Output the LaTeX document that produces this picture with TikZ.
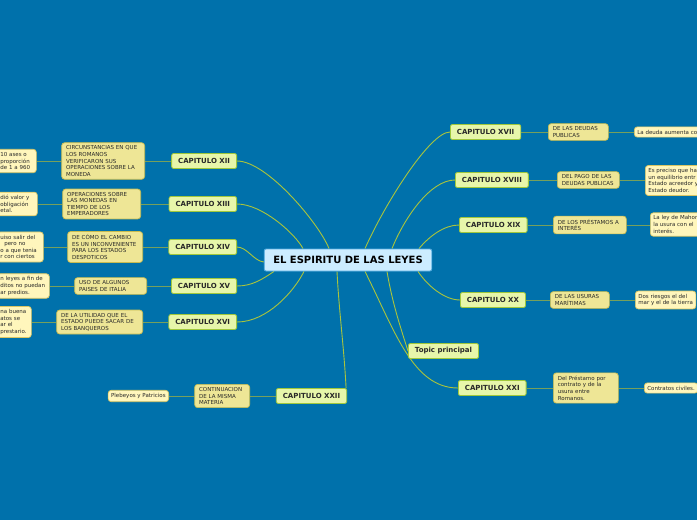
\documentclass[tikz,border=0pt]{standalone}
\usepackage{fontspec}
\setmainfont{DejaVu Sans}
\usetikzlibrary{backgrounds}

\definecolor{mapblue}{RGB}{0,113,171}
\definecolor{rootfill}{RGB}{204,236,255}
\definecolor{rootedge}{RGB}{90,175,225}
\definecolor{chapfill}{RGB}{231,246,170}
\definecolor{chapedge}{RGB}{160,200,60}
\definecolor{subfill}{RGB}{238,230,150}
\definecolor{subedge}{RGB}{200,188,80}
\definecolor{leaffill}{RGB}{255,246,188}
\definecolor{leafedge}{RGB}{218,198,100}
\definecolor{branchcol}{RGB}{170,196,60}
\definecolor{twigcol}{RGB}{118,160,92}
\definecolor{inkgray}{RGB}{40,40,40}

\begin{document}
\begin{tikzpicture}[x=1pt, y=-1pt,
    root/.style={draw=rootedge, fill=rootfill, line width=0.9pt, rounded corners=2pt,
        font=\fontsize{10}{12}\selectfont\bfseries, text=black, minimum height=22pt, inner xsep=9pt, inner ysep=0pt},
    chap/.style={draw=chapedge, fill=chapfill, line width=0.8pt, rounded corners=2pt,
        font=\fontsize{7}{8}\selectfont\bfseries, text=inkgray, minimum height=15pt, inner xsep=6.5pt, inner ysep=0pt},
    sub/.style={draw=subedge, fill=subfill, line width=0.7pt, rounded corners=3pt, align=left,
        font=\fontsize{5.5}{6.6}\selectfont, text=inkgray, inner xsep=4.5pt, inner ysep=3pt},
    leaf/.style={draw=leafedge, fill=leaffill, line width=0.7pt, rounded corners=3pt, align=left,
        font=\fontsize{5.5}{6.6}\selectfont, text=inkgray, inner xsep=3pt, inner ysep=3pt},
    branch/.style={draw=branchcol, line width=0.9pt},
    twig/.style={draw=twigcol, line width=1pt}]

    \useasboundingbox (0,0) rectangle (697,520);

    % Main topic
    \node[root] (root) at (348,260) {EL ESPIRITU DE LAS LEYES};

    % Left chapters
    \node[chap, anchor=east] (c12) at (237,161) {CAPITULO XII};
    \node[chap, anchor=east] (c13) at (237,204) {CAPITULO XIII};
    \node[chap, anchor=east] (c14) at (237,247) {CAPITULO XIV};
    \node[chap, anchor=east] (c15) at (237,286) {CAPITULO XV};
    \node[chap, anchor=east] (c16) at (237,322) {CAPITULO XVI};
    \node[chap] (c22) at (311.5,396) {CAPITULO XXII};

    % Right chapters
    \node[chap, anchor=west] (c17) at (450,132) {CAPITULO XVII};
    \node[chap, anchor=west] (c18) at (455,180) {CAPITULO XVIII};
    \node[chap, anchor=west] (c19) at (459,225) {CAPITULO XIX};
    \node[chap, anchor=west] (c20) at (460,300) {CAPITULO XX};
    \node[chap, anchor=west] (topic) at (408,351) {Topic principal};
    \node[chap, anchor=west] (c21) at (458,388) {CAPITULO XXI};

    % Sub topics, left
    \node[sub, anchor=east, text width=74pt] (circ) at (145,161) {CIRCUNSTANCIAS EN QUE\\LOS ROMANOS\\VERIFICARON SUS\\OPERACIONES SOBRE LA\\MONEDA};
    \node[sub, anchor=east, text width=69pt] (oper) at (141,204) {OPERACIONES SOBRE\\LAS MONEDAS EN\\TIEMPO DE LOS\\EMPERADORES};
    \node[sub, anchor=east, text width=66pt] (cambio) at (143,247) {DE CÓMO EL CAMBIO\\ES UN INCONVENIENTE\\PARA LOS ESTADOS\\DESPOTICOS};
    \node[sub, anchor=east, text width=63pt] (italia) at (147,286) {USO DE ALGUNOS\\PAISES DE ITALIA};
    \node[sub, anchor=east, text width=77pt] (banca) at (143,322) {DE LA UTILIDAD QUE EL\\ESTADO PUEDE SACAR DE\\LOS BANQUEROS};
    \node[sub, anchor=east, text width=46pt] (contin) at (250,396) {CONTINUACION\\DE LA MISMA\\MATERIA};

    % Sub topics, right
    \node[sub, anchor=west, text width=51pt] (deudas) at (548,132) {DE LAS DEUDAS\\PUBLICAS};
    \node[sub, anchor=west, text width=53pt] (pago) at (557,180) {DEL PAGO DE LAS\\DEUDAS PUBLICAS};
    \node[sub, anchor=west, text width=64pt] (prest) at (553,225) {DE LOS PRÉSTAMOS A\\INTERÉS};
    \node[sub, anchor=west, text width=50pt] (usuras) at (550,300) {DE LAS USURAS\\MARÍTIMAS};
    \node[sub, anchor=west, text width=56pt] (roma) at (553,388) {Del Préstamo por\\contrato y de la\\usura entre\\Romanos.};

    % Notes, cut at the left edge
    \node[leaf, anchor=west, text width=33pt] (ases) at (-3,161) {10 ases o\\proporción\\de 1 a 960};
    \node[leaf, anchor=west, text width=34pt] (valor) at (-3,204) {dió valor y\\obligación\\etal.};
    \node[leaf, anchor=west, text width=40pt] (salir) at (-3,247) {uiso salir del\\\hspace*{4pt}pero no\\o a que tenia\\r con ciertos};
    \node[leaf, anchor=west, text width=46pt] (leyes) at (-3,286) {n leyes a fin de\\ditos no puedan\\ar predios.};
    \node[leaf, anchor=west, text width=28pt] (buena) at (-3,322) {na buena\\atos se\\ar el\\prestario.};
    \node[leaf, anchor=east] (plebe) at (169,396) {Plebeyos y Patricios};

    % Notes, cut at the right edge
    \node[leaf, anchor=west] (aumenta) at (634,132) {La deuda aumenta co};
    \node[leaf, anchor=west] (preciso) at (645,180.5) {Es preciso que ha\\un equilibrio entr\\Estado acreedor y\\Estado deudor.};
    \node[leaf, anchor=west] (mahoma) at (650,224.5) {La ley de Mahom\\la usura con el\\interés.};
    \node[leaf, anchor=west] (riesgos) at (635,300) {Dos riesgos el del\\mar y el de la tierra};
    \node[leaf, anchor=west] (civiles) at (644,388) {Contratos civiles.};

    \begin{pgfonlayer}{background}
        % Background
        \fill[mapblue] (0,0) rectangle (697,520);

        % Branches from the main topic
        \draw[branch] ([xshift=-19pt]root.north) .. controls +(-10,-25) and +(30,0) .. (c12.east);
        \draw[branch] ([xshift=-45pt]root.north) .. controls +(-8,-15) and +(25,0) .. (c13.east);
        \draw[branch] ([yshift=-2pt]root.west) .. controls +(-10,-1) and +(10,0) .. (c14.east);
        \draw[branch] ([xshift=-74pt]root.south) .. controls +(-12,8) and +(15,0) .. (c15.east);
        \draw[branch] ([xshift=-44pt]root.south) .. controls +(-10,20) and +(30,0) .. (c16.east);
        \draw[branch] ([xshift=-11pt]root.south) .. controls +(2,40) and +(-2,-40) .. ([xshift=-1pt]c22.north east);
        \draw[branch] ([xshift=17pt]root.north) .. controls +(20,-45) and +(-20,0) .. (c17.west);
        \draw[branch] ([xshift=44pt]root.north) .. controls +(12,-30) and +(-25,0) .. (c18.west);
        \draw[branch] ([xshift=71pt]root.north) .. controls +(10,-12) and +(-15,0) .. (c19.west);
        \draw[branch] ([xshift=70pt]root.south) .. controls +(10,15) and +(-15,0) .. (c20.west);
        \draw[branch] ([xshift=39pt]root.south) .. controls +(5,30) and +(-8,-25) .. (topic.west);
        \draw[branch] ([xshift=17pt]root.south) .. controls +(30,60) and +(-45,0) .. (c21.west);

        % Chapters to sub topics
        \draw[twig] (c12) -- (circ);
        \draw[twig] (c13) -- (oper);
        \draw[twig] (c14) -- (cambio);
        \draw[twig] (c15) -- (italia);
        \draw[twig] (c16) -- (banca);
        \draw[twig] (c22) -- (contin);
        \draw[twig] (c17) -- (deudas);
        \draw[twig] (c18) -- (pago);
        \draw[twig] (c19) -- (prest);
        \draw[twig] (c20) -- (usuras);
        \draw[twig] (c21) -- (roma);

        % Sub topics to notes
        \draw[twig] (circ.west) -- (ases.east |- circ.west);
        \draw[twig] (oper.west) -- (valor.east |- oper.west);
        \draw[twig] (cambio.west) -- (salir.east |- cambio.west);
        \draw[twig] (italia.west) -- (leyes.east |- italia.west);
        \draw[twig] (banca.west) -- (buena.east |- banca.west);
        \draw[twig] (contin) -- (plebe);
        \draw[twig] (deudas) -- (aumenta);
        \draw[twig] (pago.east) -- (preciso.west |- pago.east);
        \draw[twig] (prest.east) -- (mahoma.west |- prest.east);
        \draw[twig] (usuras) -- (riesgos);
        \draw[twig] (roma) -- (civiles);
    \end{pgfonlayer}
\end{tikzpicture}
\end{document}
